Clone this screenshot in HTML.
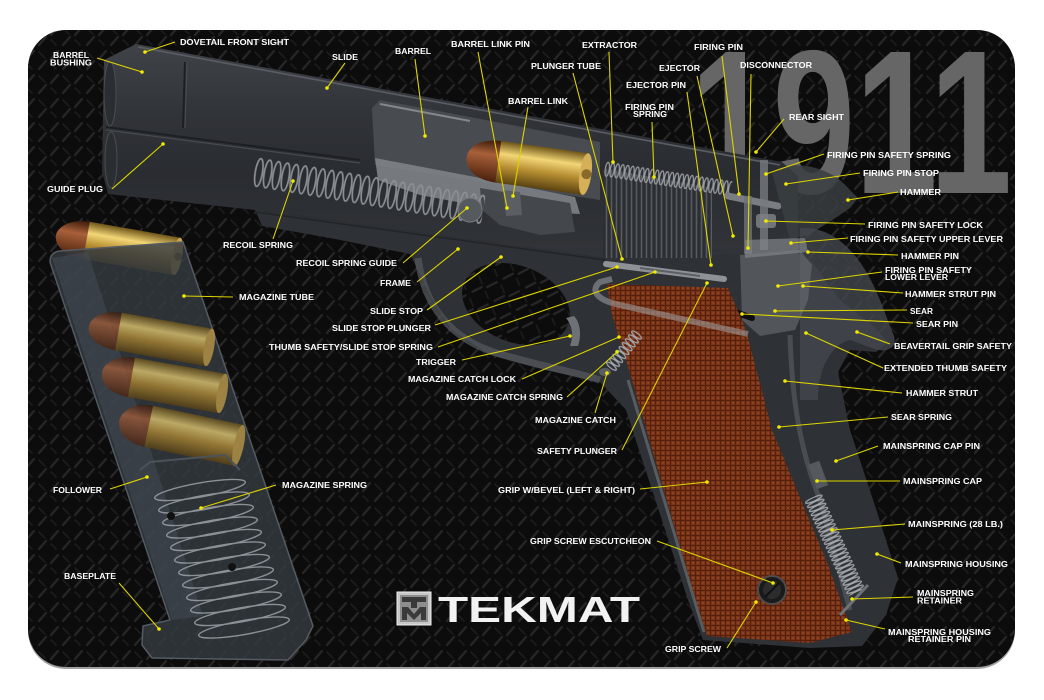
<!DOCTYPE html>
<html><head><meta charset="utf-8"><style>
html,body{margin:0;padding:0;background:#fff;}
svg{display:block;}
.l{font-family:"Liberation Sans",Arial,sans-serif;font-weight:bold;font-size:8.6px;fill:#fff;}
</style></head><body>
<svg width="1044" height="700" viewBox="0 0 1044 700" xmlns="http://www.w3.org/2000/svg">
<defs>
<pattern id="dp" width="24" height="24" patternUnits="userSpaceOnUse">
<path d="M3 11 L10 3 M15 21 L22 13" stroke="#272727" stroke-width="2.2" stroke-linecap="round"/>
<path d="M15 4 L21 10 M3 16 L8 21" stroke="#1c1c1c" stroke-width="1.6" stroke-linecap="round"/>
</pattern>
<pattern id="coil1" width="9" height="32" patternUnits="userSpaceOnUse">
<ellipse cx="4.5" cy="16" rx="3.6" ry="14" fill="none" stroke="#8a9095" stroke-width="1.7"/>
</pattern>
<pattern id="coil2" width="5" height="16" patternUnits="userSpaceOnUse">
<ellipse cx="2.5" cy="8" rx="2" ry="7" fill="none" stroke="#9a9ea2" stroke-width="1.2"/>
</pattern>
<pattern id="coil3" width="4.5" height="20" patternUnits="userSpaceOnUse">
<ellipse cx="2.25" cy="10" rx="1.8" ry="9" fill="none" stroke="#a4a8ac" stroke-width="1.2"/>
</pattern>
<pattern id="coil4" width="5" height="14" patternUnits="userSpaceOnUse">
<ellipse cx="2.5" cy="7" rx="2" ry="6" fill="none" stroke="#a4a8ac" stroke-width="1.2"/>
</pattern>
<pattern id="serr" width="5" height="10" patternUnits="userSpaceOnUse">
<rect width="5" height="10" fill="#2b2e32"/>
<line x1="1.5" y1="0" x2="1.5" y2="10" stroke="#585c61" stroke-width="1.6"/>
</pattern>
<pattern id="checker" width="5" height="5" patternUnits="userSpaceOnUse">
<rect width="5" height="5" fill="#7a3417"/>
<path d="M0 0.5 H5 M0.5 0 V5" stroke="#561f0b" stroke-width="1"/>
<rect x="2" y="2" width="2" height="2" fill="#8a4222"/>
</pattern>
<linearGradient id="slideG" x1="0" y1="0" x2="0" y2="1">
<stop offset="0" stop-color="#3f4348"/>
<stop offset="0.35" stop-color="#303338"/>
<stop offset="0.6" stop-color="#292c30"/>
<stop offset="1" stop-color="#313438"/>
</linearGradient>
<linearGradient id="gold" x1="0" y1="0" x2="0" y2="1">
<stop offset="0" stop-color="#6e5418"/>
<stop offset="0.3" stop-color="#f2d677"/>
<stop offset="0.6" stop-color="#b88f33"/>
<stop offset="1" stop-color="#5a4210"/>
</linearGradient>
<linearGradient id="copper" x1="0" y1="0" x2="0" y2="1">
<stop offset="0" stop-color="#3a1a0a"/>
<stop offset="0.35" stop-color="#a8603a"/>
<stop offset="1" stop-color="#4a200c"/>
</linearGradient>
<clipPath id="matClip"><rect x="28" y="30" width="987" height="637" rx="38"/></clipPath>
</defs>

<rect width="1044" height="700" fill="#fff"/>
<rect x="28" y="32" width="987" height="637" rx="38" fill="#a0a0a0"/>
<rect x="28" y="30" width="987" height="637" rx="38" fill="#0c0c0c"/>
<rect x="28" y="30" width="987" height="637" fill="url(#dp)" clip-path="url(#matClip)"/>

<!-- 1911 -->
<text x="690" y="193" font-family="'Liberation Sans',Arial,sans-serif" font-weight="bold" font-size="205" fill="#666666" textLength="322" lengthAdjust="spacingAndGlyphs">1911</text>

<!-- MAGAZINE -->
<g transform="translate(118,246) rotate(10)">
<path d="M-30,-19 C-55,-19 -63,-6 -63,0 C-63,8 -55,19 -30,19 Z" fill="url(#copper)"/>
<rect x="-32" y="-19" width="92" height="38" fill="url(#gold)"/>
<ellipse cx="60" cy="0" rx="5" ry="19" fill="#c9a24a"/>
<circle cx="61" cy="0" r="4" fill="#7a5a20"/>
</g>
<path d="M50,262 Q50,252 60,251 L183,242 L313,626 L306,640 L288,660 L152,658 L142,645 L143,626 L170,620 Z" fill="#353a41" opacity="0.82"/>
<path d="M52,258 L88,252 L203,616 L172,620 Z" fill="#4a5058" opacity="0.45"/>
<path d="M50,262 Q50,252 60,251 L183,242 L313,626 L306,640 L288,660 L152,658 L142,645 L143,626 L170,620 Z" fill="none" stroke="#555b62" stroke-width="1.5"/>
<g opacity="0.72">
<g transform="translate(150,337) rotate(10)">
<path d="M-30,-19 C-55,-19 -62,-6 -62,0 C-62,8 -55,19 -30,19 Z" fill="url(#copper)"/>
<rect x="-32" y="-19" width="92" height="38" fill="url(#gold)"/>
<ellipse cx="60" cy="0" rx="5" ry="19" fill="#c9a24a"/>
</g>
<g transform="translate(163,383) rotate(10)">
<path d="M-30,-20 C-55,-20 -62,-6 -62,0 C-62,8 -55,20 -30,20 Z" fill="url(#copper)"/>
<rect x="-32" y="-20" width="92" height="40" fill="url(#gold)"/>
<ellipse cx="60" cy="0" rx="5" ry="20" fill="#c9a24a"/>
</g>
<g transform="translate(180,433) rotate(12)">
<path d="M-30,-21 C-55,-21 -62,-6 -62,0 C-62,8 -55,21 -30,21 Z" fill="url(#copper)"/>
<rect x="-32" y="-21" width="92" height="42" fill="url(#gold)"/>
<ellipse cx="60" cy="0" rx="5" ry="21" fill="#c9a24a"/>
</g>
</g>
<path d="M140,470 L150,462 L225,455 L240,470" fill="none" stroke="#4c5259" stroke-width="2"/>
<g fill="none" stroke="#9ca2a8" stroke-width="1.4" opacity="0.85">
<ellipse cx="200" cy="490" rx="46" ry="7" transform="rotate(-10 200 490)"/>
<ellipse cx="204" cy="502.5" rx="46" ry="7" transform="rotate(-10 204 502.5)"/>
<ellipse cx="208" cy="515" rx="46" ry="7" transform="rotate(-10 208 515)"/>
<ellipse cx="212" cy="527.5" rx="46" ry="7" transform="rotate(-10 212 527.5)"/>
<ellipse cx="216" cy="540" rx="46" ry="7" transform="rotate(-10 216 540)"/>
<ellipse cx="220" cy="552.5" rx="46" ry="7" transform="rotate(-10 220 552.5)"/>
<ellipse cx="224" cy="565" rx="46" ry="7" transform="rotate(-10 224 565)"/>
<ellipse cx="228" cy="577.5" rx="46" ry="7" transform="rotate(-10 228 577.5)"/>
<ellipse cx="232" cy="590" rx="46" ry="7" transform="rotate(-10 232 590)"/>
<ellipse cx="236" cy="602.5" rx="46" ry="7" transform="rotate(-10 236 602.5)"/>
<ellipse cx="240" cy="615" rx="46" ry="7" transform="rotate(-10 240 615)"/>
<ellipse cx="244" cy="627.5" rx="46" ry="7" transform="rotate(-10 244 627.5)"/>
</g>
<circle cx="171" cy="516" r="4" fill="#111"/>
<circle cx="232" cy="567" r="4" fill="#111"/>

<!-- FRAME -->
<path d="M255,210 L605,258 L790,248 L812,262 L840,300 L872,325 L888,342 L876,352 L850,350 L838,372 L850,430 L878,515 L898,578 L886,615 L862,646 L810,648 L703,640 L688,600 L626,410 L600,382 L545,370 L490,355 L452,330 L430,295 L410,254 L330,238 L262,226 Z" fill="#2e3135"/>
<ellipse cx="516" cy="304" rx="56" ry="38" transform="rotate(22 516 304)" fill="#0c0c0c"/>
<ellipse cx="516" cy="304" rx="56" ry="38" transform="rotate(22 516 304)" fill="url(#dp)"/>
<path d="M418,258 C424,305 450,340 500,354 C540,366 575,372 600,380" fill="none" stroke="#575b60" stroke-width="7" opacity="0.7"/>
<path d="M566,318 C572,325 574,335 570,346 L578,346 C582,335 580,322 574,316 Z" fill="#6e7276"/>

<!-- SLIDE -->
<path d="M104,60 L136,44 L782,162 L798,176 L798,250 L700,256 L605,258 L255,210 L108,194 L102,172 Z" fill="url(#slideG)"/>
<line x1="138" y1="47" x2="780" y2="165" stroke="#5a5e64" stroke-width="1.6"/>
<line x1="106" y1="127" x2="360" y2="160" stroke="#1d2023" stroke-width="2"/>
<line x1="106" y1="130" x2="360" y2="163" stroke="#474b50" stroke-width="1.2"/>
<line x1="185" y1="62" x2="183" y2="128" stroke="#1d2023" stroke-width="2"/>
<line x1="187" y1="62" x2="185" y2="128" stroke="#4a4e53" stroke-width="1"/>
<ellipse cx="110" cy="94" rx="6" ry="32" fill="#2a2d31" stroke="#4a4e52"/>
<ellipse cx="111" cy="160" rx="6" ry="28" fill="#2a2d31" stroke="#4a4e52"/>
<line x1="255" y1="212" x2="605" y2="260" stroke="#222528" stroke-width="1.5"/>
<path d="M372,108 L380,100 L470,117 L600,142 L600,200 L470,180 L375,165 Z" fill="#484c51"/>
<line x1="380" y1="104" x2="470" y2="121" stroke="#83878b" stroke-width="2"/>
<path d="M375,158 L470,176 L575,197 L580,214 L500,210 L420,195 L378,180 Z" fill="#7e8286" opacity="0.9"/>
<path d="M480,188 L570,203 L575,232 L540,235 L500,225 L482,210 Z" fill="#44474c"/>
<g transform="translate(528,166) rotate(8)">
<path d="M-28,-21 C-55,-21 -62,-8 -62,0 C-62,8 -55,21 -28,21 Z" fill="url(#copper)"/>
<rect x="-30" y="-21" width="88" height="42" fill="url(#gold)"/>
<ellipse cx="58" cy="0" rx="6" ry="21" fill="#d6b058"/>
<circle cx="59" cy="0" r="5" fill="#8a6a28"/>
</g>
<rect x="0" y="0" width="232" height="32" fill="url(#coil1)" transform="translate(257,156) rotate(9.4)"/>
<circle cx="470" cy="210" r="12" fill="#555a5e" stroke="#777b80"/>
<path d="M503,190 L520,192 L522,215 L506,216 Z" fill="#5b5f63"/>
<path d="M603,168 L712,188 L712,258 L603,258 Z" fill="url(#serr)"/>
<rect x="0" y="0" width="128" height="16" fill="url(#coil2)" transform="translate(606,161) rotate(8.9)"/>
<line x1="728" y1="196" x2="778" y2="206" stroke="#7a7e82" stroke-width="7" stroke-linecap="round"/>
<line x1="606" y1="264" x2="724" y2="279" stroke="#8e9296" stroke-width="6" stroke-linecap="round"/>
<line x1="640" y1="268" x2="700" y2="276" stroke="#5c6064" stroke-width="2"/>

<!-- REAR MECHANISM -->
<path d="M772,172 C790,160 820,165 840,180 L858,198 L850,208 C840,215 825,225 808,235 L790,240 Z" fill="#3a3e42" opacity="0.85"/>
<path d="M800,228 C835,226 862,255 880,300 L894,336 C897,348 886,354 872,348 L850,340 C830,345 818,370 818,400 L800,400 Z" fill="#464a50" opacity="0.75"/>
<path d="M760,160 L768,160 L768,250 L760,250 Z" fill="#777b7f" opacity="0.8"/>
<rect x="744" y="196" width="8" height="58" fill="#6e7276" opacity="0.8"/>
<rect x="756" y="214" width="20" height="14" rx="3" fill="#7c8084" opacity="0.85"/>
<path d="M740,255 L800,250 L812,265 L808,300 L795,330 L760,336 L742,320 Z" fill="#6b6f73" opacity="0.6"/>
<path d="M745,240 L805,238 L808,252 L745,258 Z" fill="#80848a" opacity="0.7"/>
<line x1="735" y1="312" x2="752" y2="318" stroke="#0d0d0d" stroke-width="6" stroke-linecap="round"/>
<path d="M790,335 C792,400 800,450 820,500 L850,610" fill="none" stroke="#5b5f64" stroke-width="5" opacity="0.6"/>

<!-- GRIP -->
<path d="M607,284 L728,288 L746,330 L772,430 L828,565 L852,632 L810,643 L707,636 L690,580 L627,363 L612,315 Z" fill="url(#checker)"/>
<line x1="628" y1="380" x2="704" y2="632" stroke="#585c61" stroke-width="3"/>
<path d="M748,334 L620,305 C596,300 590,290 600,282 L612,279" fill="none" stroke="#a0a4a8" stroke-width="6" opacity="0.55"/>
<rect x="0" y="0" width="45" height="14" fill="url(#coil4)" transform="translate(643.5,337.4) rotate(128.7)"/>
<ellipse cx="605" cy="372" rx="6" ry="4" fill="#5a5e62"/>
<rect x="0" y="0" width="105" height="20" fill="url(#coil3)" transform="translate(822,493) rotate(65.4)"/>
<rect x="812" y="462" width="12" height="26" fill="#55595e" transform="rotate(-20 818 475)"/>
<line x1="840" y1="615" x2="868" y2="585" stroke="#6e7276" stroke-width="3"/>
<circle cx="772" cy="590" r="14" fill="#1a1a1a" stroke="#4c4c4c" stroke-width="2"/>
<circle cx="772" cy="590" r="9" fill="#2c2c2c"/>
<line x1="765" y1="597" x2="779" y2="583" stroke="#111" stroke-width="2"/>

<!-- LEADERS -->
<g stroke="#ddd400" stroke-width="1.1">
<line x1="175" y1="42" x2="145" y2="52"/>
<line x1="97" y1="58" x2="142" y2="72"/>
<line x1="345" y1="63" x2="327" y2="88"/>
<line x1="415" y1="59" x2="425" y2="136"/>
<line x1="478" y1="52" x2="507" y2="208"/>
<line x1="112" y1="189" x2="163" y2="144"/>
<line x1="273" y1="239" x2="293" y2="181"/>
<line x1="403" y1="263" x2="467" y2="208"/>
<line x1="417" y1="282" x2="458" y2="249"/>
<line x1="427" y1="310" x2="501" y2="257"/>
<line x1="435" y1="325" x2="617" y2="267"/>
<line x1="438" y1="347" x2="655" y2="272"/>
<line x1="233" y1="297" x2="184" y2="296"/>
<line x1="462" y1="360" x2="570" y2="336"/>
<line x1="522" y1="379" x2="619" y2="337"/>
<line x1="567" y1="397" x2="617" y2="352"/>
<line x1="595" y1="413" x2="607" y2="373"/>
<line x1="622" y1="450" x2="707" y2="283"/>
<line x1="110" y1="489" x2="147" y2="477"/>
<line x1="276" y1="485" x2="201" y2="508"/>
<line x1="119" y1="583" x2="159" y2="629"/>
<line x1="640" y1="489" x2="707" y2="482"/>
<line x1="883" y1="368" x2="806" y2="333"/>
<line x1="902" y1="393" x2="785" y2="381"/>
<line x1="888" y1="417" x2="779" y2="427"/>
<line x1="878" y1="446" x2="836" y2="461"/>
<line x1="900" y1="481" x2="817" y2="481"/>
<line x1="905" y1="524" x2="832" y2="530"/>
<line x1="901" y1="563" x2="877" y2="554"/>
<line x1="913" y1="597" x2="852" y2="599"/>
<line x1="885" y1="629" x2="846" y2="620"/>
<line x1="657" y1="541" x2="773" y2="583"/>
<line x1="727" y1="648" x2="756" y2="602"/>
<line x1="609" y1="52" x2="613" y2="162"/>
<line x1="573" y1="73" x2="622" y2="259"/>
<line x1="528" y1="107" x2="513" y2="196"/>
<line x1="722" y1="56" x2="739" y2="194"/>
<line x1="697" y1="76" x2="733" y2="236"/>
<line x1="751" y1="74" x2="748" y2="248"/>
<line x1="687" y1="92" x2="711" y2="265"/>
<line x1="652" y1="122" x2="654" y2="177"/>
<line x1="784" y1="119" x2="756" y2="152"/>
<line x1="824" y1="154" x2="766" y2="174"/>
<line x1="860" y1="173" x2="786" y2="184"/>
<line x1="898" y1="192" x2="848" y2="200"/>
<line x1="865" y1="224" x2="766" y2="221"/>
<line x1="848" y1="238" x2="791" y2="243"/>
<line x1="898" y1="255" x2="808" y2="252"/>
<line x1="882" y1="272" x2="778" y2="286"/>
<line x1="903" y1="293" x2="803" y2="286"/>
<line x1="907" y1="310" x2="775" y2="311"/>
<line x1="913" y1="323" x2="742" y2="314"/>
<line x1="890" y1="344" x2="857" y2="332"/>
</g>
<g fill="#f2ea00">
<circle cx="145" cy="52" r="1.8"/><circle cx="142" cy="72" r="1.8"/><circle cx="327" cy="88" r="1.8"/>
<circle cx="425" cy="136" r="1.8"/><circle cx="507" cy="208" r="1.8"/><circle cx="163" cy="144" r="1.8"/>
<circle cx="293" cy="181" r="1.8"/><circle cx="467" cy="208" r="1.8"/><circle cx="458" cy="249" r="1.8"/>
<circle cx="501" cy="257" r="1.8"/><circle cx="617" cy="267" r="1.8"/><circle cx="655" cy="272" r="1.8"/>
<circle cx="184" cy="296" r="1.8"/><circle cx="570" cy="336" r="1.8"/><circle cx="619" cy="337" r="1.8"/>
<circle cx="617" cy="352" r="1.8"/><circle cx="607" cy="373" r="1.8"/><circle cx="707" cy="283" r="1.8"/>
<circle cx="147" cy="477" r="1.8"/><circle cx="201" cy="508" r="1.8"/><circle cx="159" cy="629" r="1.8"/>
<circle cx="707" cy="482" r="1.8"/><circle cx="806" cy="333" r="1.8"/><circle cx="785" cy="381" r="1.8"/>
<circle cx="779" cy="427" r="1.8"/><circle cx="836" cy="461" r="1.8"/><circle cx="817" cy="481" r="1.8"/>
<circle cx="832" cy="530" r="1.8"/><circle cx="877" cy="554" r="1.8"/><circle cx="852" cy="599" r="1.8"/>
<circle cx="846" cy="620" r="1.8"/><circle cx="773" cy="583" r="1.8"/><circle cx="756" cy="602" r="1.8"/>
<circle cx="613" cy="162" r="1.8"/><circle cx="622" cy="259" r="1.8"/><circle cx="513" cy="196" r="1.8"/>
<circle cx="739" cy="194" r="1.8"/><circle cx="733" cy="236" r="1.8"/><circle cx="748" cy="248" r="1.8"/>
<circle cx="711" cy="265" r="1.8"/><circle cx="654" cy="177" r="1.8"/><circle cx="756" cy="152" r="1.8"/>
<circle cx="766" cy="174" r="1.8"/><circle cx="786" cy="184" r="1.8"/><circle cx="848" cy="200" r="1.8"/>
<circle cx="766" cy="221" r="1.8"/><circle cx="791" cy="243" r="1.8"/><circle cx="808" cy="252" r="1.8"/>
<circle cx="778" cy="286" r="1.8"/><circle cx="803" cy="286" r="1.8"/><circle cx="775" cy="311" r="1.8"/>
<circle cx="742" cy="314" r="1.8"/><circle cx="857" cy="332" r="1.8"/>
</g>

<!-- LABELS -->
<g class="l">
<text class="l" x="180" y="45" textLength="109" lengthAdjust="spacingAndGlyphs">DOVETAIL FRONT SIGHT</text>
<text class="l" x="53" y="58" textLength="36" lengthAdjust="spacingAndGlyphs">BARREL</text>
<text class="l" x="50" y="65.5" textLength="42" lengthAdjust="spacingAndGlyphs">BUSHING</text>
<text class="l" x="332" y="60" textLength="26" lengthAdjust="spacingAndGlyphs">SLIDE</text>
<text class="l" x="395" y="54" textLength="36" lengthAdjust="spacingAndGlyphs">BARREL</text>
<text class="l" x="451" y="47" textLength="79" lengthAdjust="spacingAndGlyphs">BARREL LINK PIN</text>
<text class="l" x="47" y="192" textLength="56" lengthAdjust="spacingAndGlyphs">GUIDE PLUG</text>
<text class="l" x="223" y="248" textLength="70" lengthAdjust="spacingAndGlyphs">RECOIL SPRING</text>
<text class="l" x="296" y="266" textLength="101" lengthAdjust="spacingAndGlyphs">RECOIL SPRING GUIDE</text>
<text class="l" x="380" y="286" textLength="31" lengthAdjust="spacingAndGlyphs">FRAME</text>
<text class="l" x="370" y="314" textLength="53" lengthAdjust="spacingAndGlyphs">SLIDE STOP</text>
<text class="l" x="332" y="331" textLength="99" lengthAdjust="spacingAndGlyphs">SLIDE STOP PLUNGER</text>
<text class="l" x="269" y="350" textLength="164" lengthAdjust="spacingAndGlyphs">THUMB SAFETY/SLIDE STOP SPRING</text>
<text class="l" x="239" y="300" textLength="75" lengthAdjust="spacingAndGlyphs">MAGAZINE TUBE</text>
<text class="l" x="416" y="365" textLength="40" lengthAdjust="spacingAndGlyphs">TRIGGER</text>
<text class="l" x="408" y="382" textLength="108" lengthAdjust="spacingAndGlyphs">MAGAZINE CATCH LOCK</text>
<text class="l" x="446" y="400" textLength="117" lengthAdjust="spacingAndGlyphs">MAGAZINE CATCH SPRING</text>
<text class="l" x="535" y="423" textLength="81" lengthAdjust="spacingAndGlyphs">MAGAZINE CATCH</text>
<text class="l" x="537" y="454" textLength="80" lengthAdjust="spacingAndGlyphs">SAFETY PLUNGER</text>
<text class="l" x="53" y="493" textLength="49" lengthAdjust="spacingAndGlyphs">FOLLOWER</text>
<text class="l" x="282" y="488" textLength="85" lengthAdjust="spacingAndGlyphs">MAGAZINE SPRING</text>
<text class="l" x="64" y="579" textLength="52" lengthAdjust="spacingAndGlyphs">BASEPLATE</text>
<text class="l" x="498" y="493" textLength="137" lengthAdjust="spacingAndGlyphs">GRIP W/BEVEL (LEFT &amp; RIGHT)</text>
<text class="l" x="884" y="371" textLength="123" lengthAdjust="spacingAndGlyphs">EXTENDED THUMB SAFETY</text>
<text class="l" x="906" y="396" textLength="72" lengthAdjust="spacingAndGlyphs">HAMMER STRUT</text>
<text class="l" x="891" y="420" textLength="61" lengthAdjust="spacingAndGlyphs">SEAR SPRING</text>
<text class="l" x="883" y="449" textLength="97" lengthAdjust="spacingAndGlyphs">MAINSPRING CAP PIN</text>
<text class="l" x="903" y="484" textLength="79" lengthAdjust="spacingAndGlyphs">MAINSPRING CAP</text>
<text class="l" x="908" y="527" textLength="95" lengthAdjust="spacingAndGlyphs">MAINSPRING (28 LB.)</text>
<text class="l" x="905" y="567" textLength="103" lengthAdjust="spacingAndGlyphs">MAINSPRING HOUSING</text>
<text class="l" x="917" y="596" textLength="57" lengthAdjust="spacingAndGlyphs">MAINSPRING</text>
<text class="l" x="917" y="603.5" textLength="45" lengthAdjust="spacingAndGlyphs">RETAINER</text>
<text class="l" x="888" y="635" textLength="103" lengthAdjust="spacingAndGlyphs">MAINSPRING HOUSING</text>
<text class="l" x="908" y="642" textLength="63" lengthAdjust="spacingAndGlyphs">RETAINER PIN</text>
<text class="l" x="530" y="544" textLength="121" lengthAdjust="spacingAndGlyphs">GRIP SCREW ESCUTCHEON</text>
<text class="l" x="665" y="652" textLength="56" lengthAdjust="spacingAndGlyphs">GRIP SCREW</text>
<text class="l" x="582" y="48" textLength="55" lengthAdjust="spacingAndGlyphs">EXTRACTOR</text>
<text class="l" x="531" y="69" textLength="70" lengthAdjust="spacingAndGlyphs">PLUNGER TUBE</text>
<text class="l" x="508" y="104" textLength="60" lengthAdjust="spacingAndGlyphs">BARREL LINK</text>
<text class="l" x="694" y="50" textLength="49" lengthAdjust="spacingAndGlyphs">FIRING PIN</text>
<text class="l" x="659" y="71" textLength="41" lengthAdjust="spacingAndGlyphs">EJECTOR</text>
<text class="l" x="740" y="68" textLength="72" lengthAdjust="spacingAndGlyphs">DISCONNECTOR</text>
<text class="l" x="626" y="88" textLength="60" lengthAdjust="spacingAndGlyphs">EJECTOR PIN</text>
<text class="l" x="625" y="110" textLength="49" lengthAdjust="spacingAndGlyphs">FIRING PIN</text>
<text class="l" x="633" y="117" textLength="34" lengthAdjust="spacingAndGlyphs">SPRING</text>
<text class="l" x="789" y="120" textLength="55" lengthAdjust="spacingAndGlyphs">REAR SIGHT</text>
<text class="l" x="827" y="158" textLength="124" lengthAdjust="spacingAndGlyphs">FIRING PIN SAFETY SPRING</text>
<text class="l" x="863" y="176" textLength="76" lengthAdjust="spacingAndGlyphs">FIRING PIN STOP</text>
<text class="l" x="900" y="195" textLength="41" lengthAdjust="spacingAndGlyphs">HAMMER</text>
<text class="l" x="868" y="228" textLength="115" lengthAdjust="spacingAndGlyphs">FIRING PIN SAFETY LOCK</text>
<text class="l" x="850" y="242" textLength="153" lengthAdjust="spacingAndGlyphs">FIRING PIN SAFETY UPPER LEVER</text>
<text class="l" x="901" y="259" textLength="58" lengthAdjust="spacingAndGlyphs">HAMMER PIN</text>
<text class="l" x="885" y="273" textLength="87" lengthAdjust="spacingAndGlyphs">FIRING PIN SAFETY</text>
<text class="l" x="885" y="280" textLength="63" lengthAdjust="spacingAndGlyphs">LOWER LEVER</text>
<text class="l" x="905" y="297" textLength="91" lengthAdjust="spacingAndGlyphs">HAMMER STRUT PIN</text>
<text class="l" x="910" y="314" textLength="23" lengthAdjust="spacingAndGlyphs">SEAR</text>
<text class="l" x="916" y="327" textLength="42" lengthAdjust="spacingAndGlyphs">SEAR PIN</text>
<text class="l" x="894" y="349" textLength="118" lengthAdjust="spacingAndGlyphs">BEAVERTAIL GRIP SAFETY</text>
</g>

<!-- TEKMAT LOGO -->
<rect x="397" y="592" width="34" height="33" fill="#c8c8c8" stroke="#eeeeee" stroke-width="1"/>
<rect x="400" y="595" width="28" height="27" fill="#8e8e8e"/>
<rect x="402" y="597" width="24" height="5" fill="#3a3a3a"/>
<rect x="411" y="601" width="6" height="7" fill="#3a3a3a"/>
<path d="M402,620 L402,607 L408,607 L414,614 L420,607 L426,607 L426,620 L421,620 L421,613 L414,620 L407,613 L407,620 Z" fill="#3a3a3a"/>
<text x="438" y="622" font-family="'Liberation Sans',Arial,sans-serif" font-weight="bold" font-size="36" fill="#f2f2f2" textLength="202" lengthAdjust="spacingAndGlyphs">TEKMAT</text>
</svg>
</body></html>
